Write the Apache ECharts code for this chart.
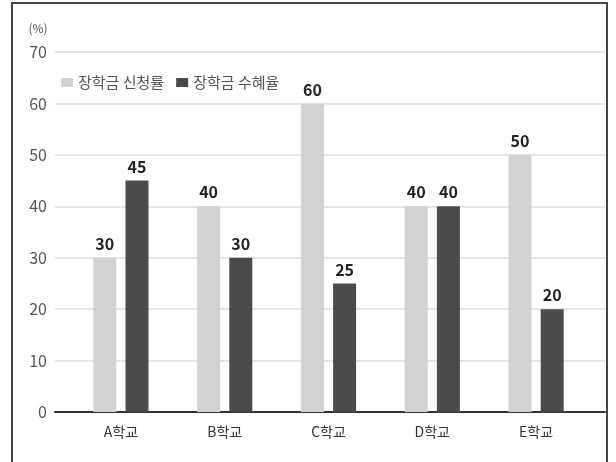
<!DOCTYPE html>
<html>
<head>
<meta charset="utf-8">
<script src="https://cdn.jsdelivr.net/npm/echarts@6/dist/echarts.min.js"></script>
<style>
  html, body { margin: 0; padding: 0; background: #fff; }
  #chart { width: 616px; height: 462px; }
</style>
</head>
<body>
<div id="chart"></div>
<script>
// 학교별 장학금 신청률 / 수혜율 (%)
const schools = ['A학교', 'B학교', 'C학교', 'D학교', 'E학교']
const applyRate = [30, 40, 60, 40, 50]
const receiveRate = [45, 30, 25, 40, 20]
const seriesNames = ['장학금 신청률', '장학금 수혜율']

const font = "'Noto Sans CJK KR', sans-serif"
const lightColor = '#d2d2d2'
const darkColor = '#4b4b4b'

const chart = echarts.init(document.getElementById('chart'), null, { renderer: 'canvas' })

const valueLabel = {
  show: true,
  position: 'top',
  distance: 6,
  fontSize: 16,
  fontWeight: 'bold',
  color: '#222',
  fontFamily: font,
}

const option = {
  backgroundColor: '#fff',
  textStyle: { fontFamily: font },
  // 바깥 테두리
  graphic: [
    {
      type: 'rect',
      shape: { x: 12, y: 3, width: 595, height: 480 },
      style: { fill: 'none', stroke: '#444', lineWidth: 2 },
      silent: true,
    },
  ],
  legend: {
    left: 56,
    top: 70,
    itemWidth: 12,
    itemHeight: 9,
    itemGap: 12,
    icon: 'rect',
    data: seriesNames,
    textStyle: { fontSize: 15, color: '#555', fontFamily: font },
  },
  // grid 0: 눈금선/기준선, grid 1: 막대
  grid: [
    { left: 55, right: 11, top: 52, bottom: 50 },
    { left: 69, right: 28, top: 52, bottom: 50 },
  ],
  xAxis: [
    {
      gridIndex: 0,
      type: 'category',
      data: schools,
      axisLine: { lineStyle: { color: '#333', width: 2 } },
      axisTick: { show: false },
      axisLabel: { show: false },
    },
    {
      gridIndex: 1,
      type: 'category',
      data: schools,
      axisLine: { show: false },
      axisTick: { show: false },
      axisLabel: { margin: 13, fontSize: 14, color: '#333', fontFamily: font },
    },
  ],
  yAxis: [
    {
      gridIndex: 0,
      type: 'value',
      min: 0,
      max: 70,
      interval: 10,
      name: '(%)',
      nameLocation: 'end',
      nameGap: 18,
      nameTextStyle: { fontSize: 12, color: '#555', align: 'center', padding: [0, 34, 0, 0] },
      axisLine: { show: false },
      axisTick: { show: false },
      axisLabel: { margin: 8, fontSize: 16, color: '#555', fontFamily: font },
      splitLine: { lineStyle: { color: '#dcdcdc', width: 1.5 } },
    },
    {
      gridIndex: 1,
      type: 'value',
      min: 0,
      max: 70,
      interval: 10,
      show: false,
    },
  ],
  series: [
    {
      name: seriesNames[0],
      type: 'bar',
      xAxisIndex: 1,
      yAxisIndex: 1,
      data: applyRate,
      barWidth: 23,
      barGap: '40%',
      itemStyle: { color: lightColor },
      label: valueLabel,
    },
    {
      name: seriesNames[1],
      type: 'bar',
      xAxisIndex: 1,
      yAxisIndex: 1,
      data: receiveRate,
      barWidth: 23,
      barGap: '40%',
      itemStyle: { color: darkColor },
      label: valueLabel,
    },
  ],
}

chart.setOption(option)
</script>
</body>
</html>
